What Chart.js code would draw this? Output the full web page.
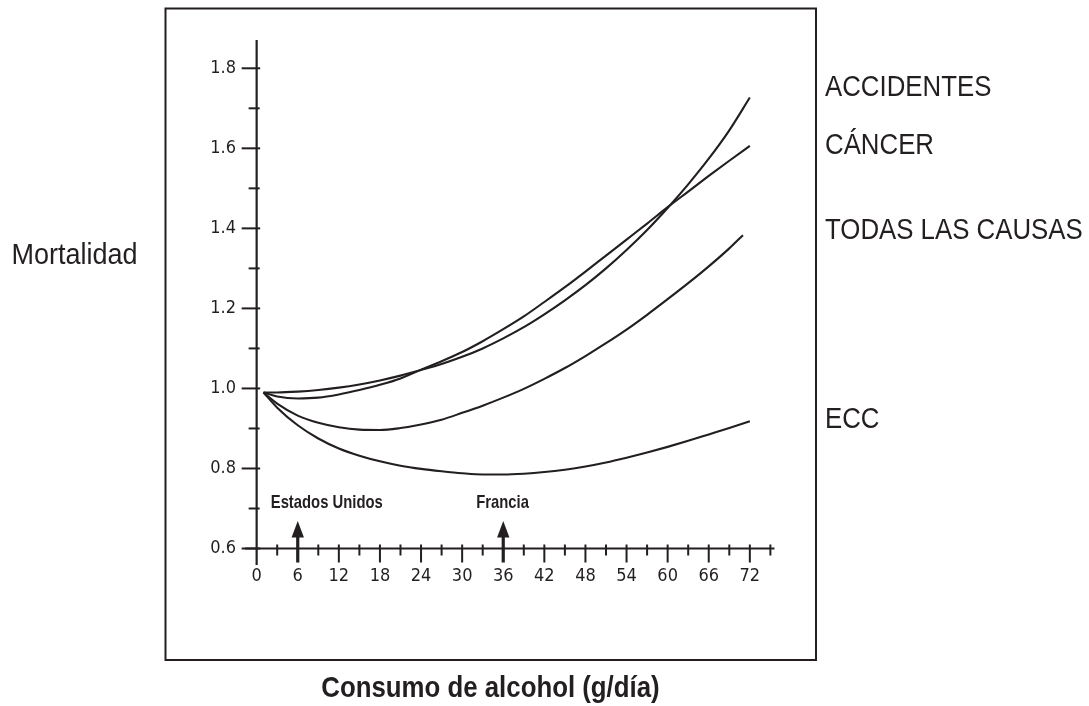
<!DOCTYPE html>
<html>
<head>
<meta charset="utf-8">
<script src="https://cdn.jsdelivr.net/npm/chart.js@4.4.1/dist/chart.umd.min.js"></script>
<style>
html,body{margin:0;padding:0;background:#ffffff;}
#wrap{width:1089px;height:706px;position:relative;}
</style>
</head>
<body>
<div id="wrap"><canvas id="c" width="1089" height="706"></canvas></div>
<script>
// ---- data ----
const xMain  = [1, 3, 6, 9, 12, 15, 18, 21, 24, 27, 30, 33, 36, 39, 42, 45, 48, 51, 54, 57, 60, 63, 66, 69, 72];
const xTodas = [1, 3, 6, 9, 12, 15, 18, 21, 24, 27, 30, 33, 36, 39, 42, 45, 48, 51, 54, 57, 60, 63, 66, 69, 71];

const accidentes = [0.990, 0.990, 0.992, 0.996, 1.002, 1.010, 1.020, 1.032, 1.046, 1.061, 1.079, 1.100, 1.125,
                    1.153, 1.185, 1.220, 1.258, 1.300, 1.346, 1.396, 1.451, 1.510, 1.574, 1.645, 1.727];
const cancer     = [0.990, 0.980, 0.975, 0.977, 0.985, 0.996, 1.009, 1.025, 1.047, 1.068, 1.091, 1.118, 1.148,
                    1.180, 1.216, 1.253, 1.292, 1.332, 1.372, 1.412, 1.453, 1.492, 1.531, 1.569, 1.606];
const todas      = [0.990, 0.962, 0.932, 0.914, 0.903, 0.897, 0.896, 0.901, 0.910, 0.922, 0.939, 0.957, 0.977,
                    0.999, 1.024, 1.051, 1.081, 1.113, 1.147, 1.184, 1.223, 1.263, 1.305, 1.350, 1.383];
const ecc        = [0.990, 0.952, 0.908, 0.875, 0.850, 0.832, 0.818, 0.807, 0.799, 0.793, 0.788, 0.785, 0.785,
                    0.787, 0.791, 0.797, 0.805, 0.815, 0.827, 0.840, 0.854, 0.869, 0.885, 0.901, 0.918];

const seriesLabels = ['ACCIDENTES', 'CÁNCER', 'TODAS LAS CAUSAS', 'ECC'];
const yMajorTicks = [0.6, 0.8, 1.0, 1.2, 1.4, 1.6, 1.8];
const yMinorTicks = [0.7, 0.9, 1.1, 1.3, 1.5, 1.7];
const xMajorTicks = [0, 6, 12, 18, 24, 30, 36, 42, 48, 54, 60, 66, 72];
const xMinorTicks = [3, 9, 15, 21, 27, 33, 39, 45, 51, 57, 63, 69, 75];
const markerValues = [6, 36];
const markerLabels = ['Estados Unidos', 'Francia'];
const yTitle = 'Mortalidad';
const xTitle = 'Consumo de alcohol (g/día)';

// ---- drawing ----
const INK = '#231f20';
const NARROW = "'DejaVu Sans Condensed', 'Liberation Sans Narrow', sans-serif";
const SANS = "'Liberation Sans', Arial, sans-serif";
const labelAnchors = [1.752, 1.607, 1.393, 0.922]; // vertical anchors of the series names (data units)

function toPoints(xs, ys) { return xs.map((x, i) => ({ x: x, y: ys[i] })); }

function condensedText(ctx, text, x, y, font, sx, align) {
  ctx.save();
  ctx.font = font;
  ctx.textAlign = align;
  ctx.textBaseline = 'middle';
  ctx.translate(x, y);
  ctx.scale(sx, 1);
  ctx.fillText(text, 0, 0);
  ctx.restore();
}

const decor = {
  id: 'decor',
  afterDraw(chart) {
    const { ctx, chartArea, scales: { x, y } } = chart;
    const line = (x1, y1, x2, y2) => { ctx.beginPath(); ctx.moveTo(x1, y1); ctx.lineTo(x2, y2); ctx.stroke(); };
    ctx.save();
    ctx.strokeStyle = INK;
    ctx.fillStyle = INK;
    ctx.lineCap = 'butt';

    // frame
    ctx.lineWidth = 2;
    ctx.strokeRect(165.5, 8.5, 650.5, 651.5);

    const x0 = x.getPixelForValue(0);
    const y0 = y.getPixelForValue(0.6);

    // axis lines
    ctx.lineWidth = 2.2;
    line(x0, chartArea.top, x0, chartArea.bottom);
    line(chartArea.left, y0, chartArea.right, y0);

    // y ticks
    ctx.lineWidth = 2;
    yMajorTicks.forEach(v => { const p = y.getPixelForValue(v); line(x0 - 15, p, x0 + 3.5, p); });
    yMinorTicks.forEach(v => { const p = y.getPixelForValue(v); line(x0 - 8, p, x0 + 3, p); });

    // x ticks
    xMajorTicks.forEach(v => {
      if (v === 0 || markerValues.includes(v)) return;
      const p = x.getPixelForValue(v); line(p, y0 - 4, p, y0 + 14);
    });
    xMinorTicks.forEach(v => { const p = x.getPixelForValue(v); line(p, y0 - 4, p, y0 + 7); });

    // marker arrows + labels
    markerValues.forEach((v, i) => {
      const p = x.getPixelForValue(v);
      ctx.lineWidth = 3.2;
      line(p, y0 - 13, p, y0 + 14);
      ctx.beginPath();
      ctx.moveTo(p, y0 - 27.5);
      ctx.lineTo(p - 6.2, y0 - 11);
      ctx.lineTo(p + 6.2, y0 - 11);
      ctx.closePath();
      ctx.fill();
      condensedText(ctx, markerLabels[i], p - 27, y0 - 46, "bold 19px " + SANS, 0.78, 'left');
    });

    // series names on the right
    seriesLabels.forEach((t, i) => {
      condensedText(ctx, t, 825, y.getPixelForValue(labelAnchors[i]), "29px " + SANS, 0.89, 'left');
    });

    // y title (horizontal)
    condensedText(ctx, yTitle, 11.5, 256, "30px " + SANS, 0.9, 'left');

    // x title
    condensedText(ctx, xTitle, 490.5, 689, "bold 30px " + SANS, 0.86, 'center');

    ctx.restore();
  }
};

const lineStyle = {
  borderColor: INK, borderWidth: 2.1, pointRadius: 0, fill: false,
  cubicInterpolationMode: 'monotone'
};

new Chart(document.getElementById('c').getContext('2d'), {
  type: 'line',
  data: {
    datasets: [
      Object.assign({ label: seriesLabels[0], data: toPoints(xMain, accidentes) }, lineStyle),
      Object.assign({ label: seriesLabels[1], data: toPoints(xMain, cancer) }, lineStyle),
      Object.assign({ label: seriesLabels[2], data: toPoints(xTodas, todas) }, lineStyle),
      Object.assign({ label: seriesLabels[3], data: toPoints(xMain, ecc) }, lineStyle)
    ]
  },
  options: {
    responsive: false,
    animation: false,
    devicePixelRatio: 1,
    layout: { padding: { left: 0, top: 40, right: 314.5, bottom: 0 } },
    plugins: { legend: { display: false }, tooltip: { enabled: false } },
    scales: {
      x: {
        type: 'linear', position: 'bottom', min: -1.7, max: 75.6,
        grid: { display: false, drawTicks: false },
        border: { display: false },
        afterBuildTicks: s => { s.ticks = xMajorTicks.map(v => ({ value: v })); },
        afterFit: s => { s.height = 141; },
        ticks: { font: { family: NARROW, size: 18 }, color: INK, padding: 1, maxRotation: 0, autoSkip: false }
      },
      y: {
        type: 'linear', position: 'left', min: 0.5588, max: 1.8707,
        grid: { display: false, drawTicks: false },
        border: { display: false },
        afterBuildTicks: s => { s.ticks = yMajorTicks.map(v => ({ value: v })); },
        afterFit: s => { s.width = 245; },
        ticks: { font: { family: NARROW, size: 18 }, color: INK, padding: 9, autoSkip: false,
                 callback: v => Number(v).toFixed(1) }
      }
    }
  },
  plugins: [decor]
});
</script>
</body>
</html>
